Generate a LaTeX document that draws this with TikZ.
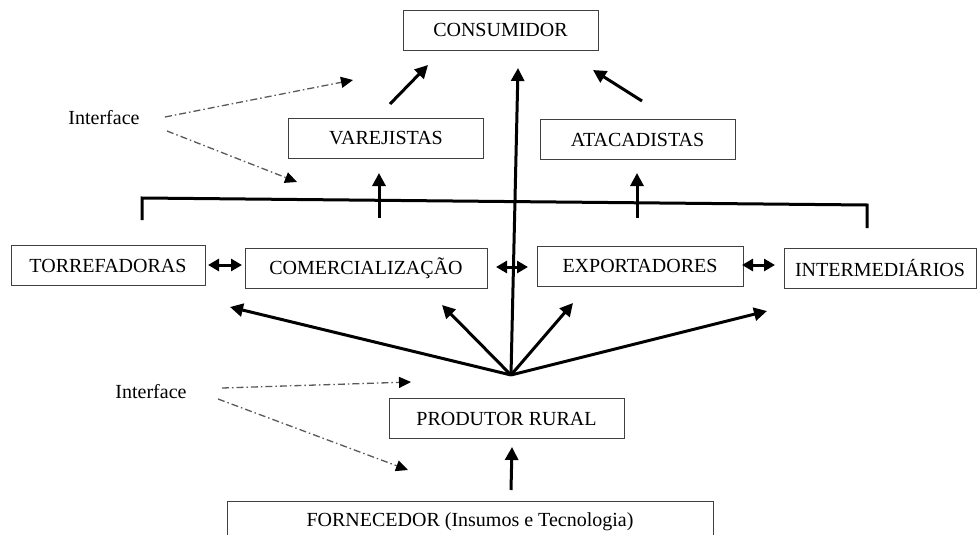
\documentclass[tikz,border=0pt]{standalone}
\usepackage{fontspec}
\setmainfont{Liberation Serif}
\usetikzlibrary{arrows.meta}
\tikzset{
  box/.style={draw=black!75, line width=0.8pt, minimum height=40pt, inner sep=0pt, font=\fontsize{20}{24}\selectfont},
  lbl/.style={inner sep=0pt, font=\fontsize{20}{24}\selectfont},
  flow/.style={line width=3pt, -{Triangle[length=13pt,width=13pt]}},
  both/.style={line width=3pt, {Triangle[length=11pt,width=12pt]}-{Triangle[length=11pt,width=12pt]}},
  link/.style={draw=black!65, line width=1.3pt, dash pattern=on 7pt off 3pt on 1.5pt off 3pt, -{Triangle[length=12pt,width=11pt,black]}}
}

\begin{document}
\begin{tikzpicture}[x=1pt, y=-1pt]
      \useasboundingbox (0,0) rectangle (980,535);
      % Nodes
      \node[box, minimum width=195pt] (cons) at (500.5,30) {CONSUMIDOR};
      \node[box, minimum width=195pt] (varej) at (386,138) {VAREJISTAS};
      \node[box, minimum width=195pt] (atac) at (637.5,139.5) {ATACADISTAS};
      \node[box, minimum width=194pt] (torr) at (108,265.5) {TORREFADORAS};
      \node[box, minimum width=242pt] (comerc) at (366,268) {COMERCIALIZAÇÃO};
      \node[box, minimum width=206pt] (export) at (640,266) {EXPORTADORES};
      \node[box, minimum width=192pt] (interm) at (880,268) {INTERMEDIÁRIOS};
      \node[box, minimum width=235pt] (prod) at (506.5,418.5) {PRODUTOR RURAL};
      \node[box, minimum width=486pt, minimum height=42pt] (forn) at (470,522) {FORNECEDOR (Insumos e Tecnologia)};
      \node[lbl] (intA) at (104,118) {Interface};
      \node[lbl] (intB) at (151,392) {Interface};

      % Points
      \coordinate (hub) at (511,375);
      \coordinate (b1) at (142,220);
      \coordinate (b2) at (142,198);
      \coordinate (b3) at (867,205);
      \coordinate (b4) at (867,228);
      \coordinate (v0) at (379,218);
      \coordinate (v1) at (379,173);
      \coordinate (a0) at (637,218);
      \coordinate (a1) at (637,173);
      \coordinate (v2) at (390,104);
      \coordinate (v3) at (428,65);
      \coordinate (a2) at (642,101);
      \coordinate (a3) at (593,70);
      \coordinate (c1) at (518,68);
      \coordinate (h1) at (230,307);
      \coordinate (h2) at (442,305);
      \coordinate (h3) at (573,303);
      \coordinate (h4) at (767,311);
      \coordinate (f0) at (511,490);
      \coordinate (f1) at (512,447);
      \coordinate (t1) at (208,265);
      \coordinate (t2) at (242,265);
      \coordinate (e1) at (496,267);
      \coordinate (e2) at (528,267);
      \coordinate (i1) at (742,265);
      \coordinate (i2) at (775,265);
      \coordinate (p1) at (165,117);
      \coordinate (p2) at (353,80);
      \coordinate (p3) at (167,131);
      \coordinate (p4) at (297,182);
      \coordinate (q1) at (222,388);
      \coordinate (q2) at (411,382);
      \coordinate (q3) at (218,399);
      \coordinate (q4) at (408,470);

      % Edges
      \draw[line width=3pt] (b1) -- (b2) -- (b3) -- (b4);
      \draw[flow] (v0) -- (v1);
      \draw[flow] (a0) -- (a1);
      \draw[flow] (v2) -- (v3);
      \draw[flow] (a2) -- (a3);
      \draw[flow] (hub) -- (c1);
      \draw[flow] (hub) -- (h1);
      \draw[flow] (hub) -- (h2);
      \draw[flow] (hub) -- (h3);
      \draw[flow] (hub) -- (h4);
      \draw[flow] (f0) -- (f1);
      \draw[both] (t1) -- (t2);
      \draw[both] (e1) -- (e2);
      \draw[both] (i1) -- (i2);
      \draw[link] (p1) -- (p2);
      \draw[link] (p3) -- (p4);
      \draw[link] (q1) -- (q2);
      \draw[link] (q3) -- (q4);
\end{tikzpicture}
\end{document}
